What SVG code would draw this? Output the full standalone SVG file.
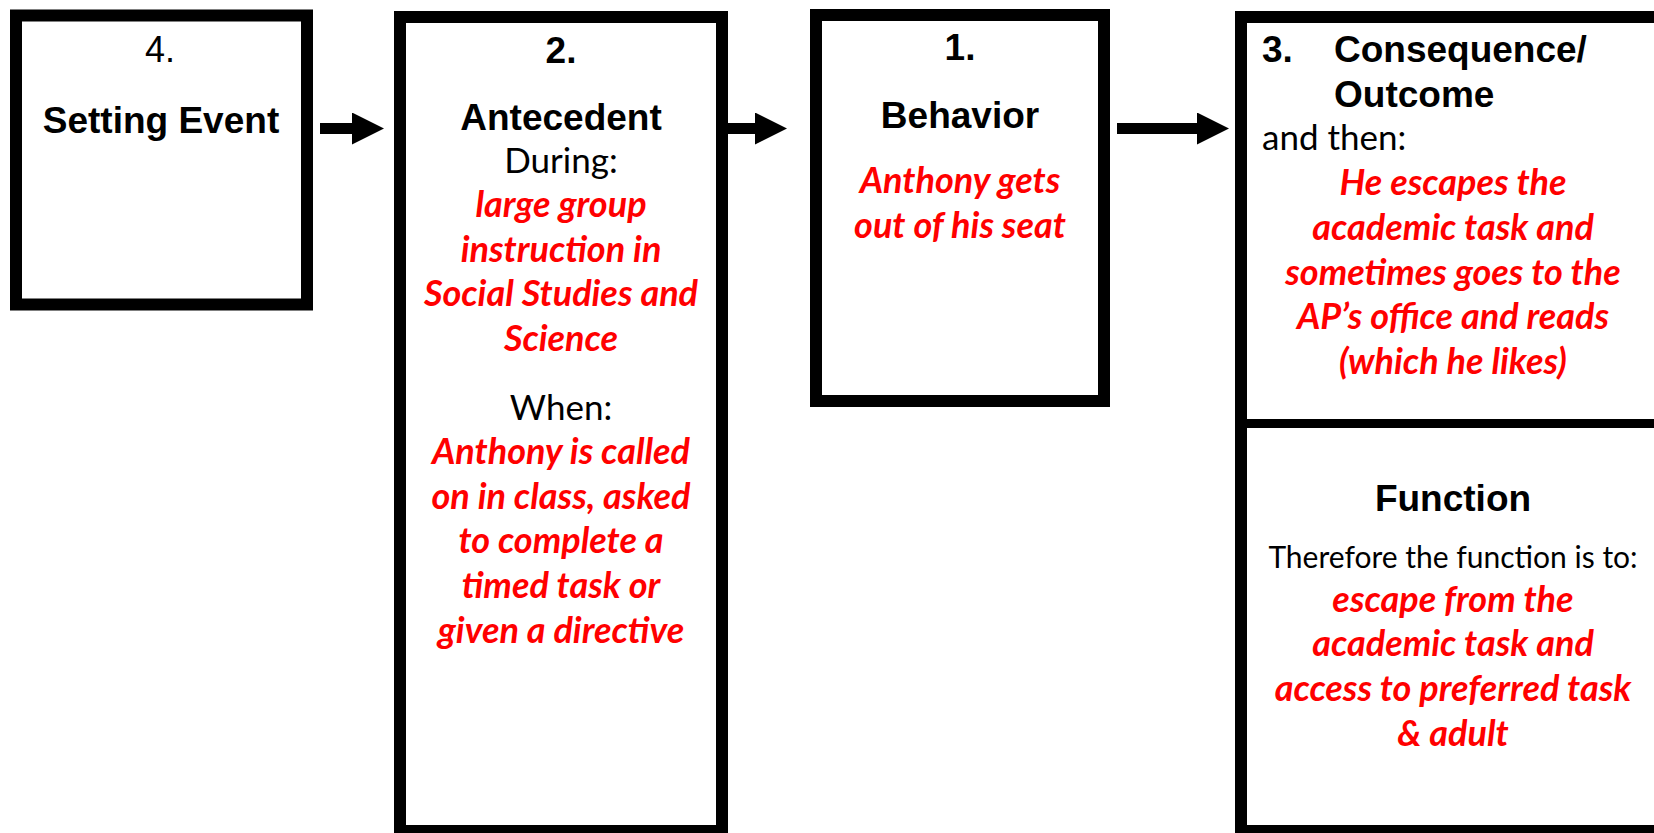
<svg xmlns="http://www.w3.org/2000/svg" width="1654" height="833" viewBox="0 0 1654 833">
<style>
.box{fill:#fff;stroke:#000;stroke-width:12}
.hd{font-family:"Liberation Sans",Arial,sans-serif;font-weight:bold;font-size:37px;fill:#000}
.num{font-family:"Liberation Sans",Arial,sans-serif;font-size:36px;fill:#000}
.lbl{font-family:Lato,"Open Sans",sans-serif;font-size:35px;fill:#000}
.red{font-family:Lato,"Open Sans",sans-serif;font-size:36px;font-weight:bold;font-style:italic;fill:#ff0000}
.c{text-anchor:middle}
.conn{stroke:#000;stroke-width:11;fill:none}
</style>
<defs>
<marker id="ah" markerUnits="userSpaceOnUse" markerWidth="32" markerHeight="32" refX="0" refY="16" orient="auto">
<path d="M0,0 L32,16 L0,32 Z" fill="#000"/>
</marker>
</defs>
<rect width="1654" height="833" fill="#fff"/>
<g id="setting-event">
<rect class="box" x="16" y="15.5" width="291" height="289"/>
<text class="num c" x="160" y="62.3">4.</text>
<text class="hd c" x="161" y="133">Setting Event</text>
</g>
<g id="antecedent">
<rect class="box" x="400" y="17" width="322" height="814"/>
<text class="hd c" x="561" y="62.7">2.</text>
<text class="hd c" x="561" y="130">Antecedent</text>
<text class="lbl c" x="561" y="172.7">During:</text>
<text class="red c" x="561" y="216.7">large group</text>
<text class="red c" x="561" y="261.5">instruction in</text>
<text class="red c" x="561" y="306.3">Social Studies and</text>
<text class="red c" x="561" y="351">Science</text>
<text class="lbl c" x="561" y="420">When:</text>
<text class="red c" x="561" y="464">Anthony is called</text>
<text class="red c" x="561" y="508.5">on in class, asked</text>
<text class="red c" x="561" y="553">to complete a</text>
<text class="red c" x="561" y="598">timed task or</text>
<text class="red c" x="561" y="642.7">given a directive</text>
</g>
<g id="behavior">
<rect class="box" x="816" y="15" width="288" height="386"/>
<text class="hd c" x="960" y="60">1.</text>
<text class="hd c" x="960" y="127.7">Behavior</text>
<text class="red c" x="960" y="192.7">Anthony gets</text>
<text class="red c" x="960" y="238">out of his seat</text>
</g>
<g id="consequence">
<rect class="box" x="1241" y="17" width="424" height="814"/>
<line x1="1241" y1="423.5" x2="1665" y2="423.5" stroke="#000" stroke-width="9"/>
<text class="hd" x="1262" y="62.3">3.</text>
<text class="hd" x="1334" y="62.3">Consequence/</text>
<text class="hd" x="1334" y="106.7">Outcome</text>
<text class="lbl" x="1262" y="150">and then:</text>
<text class="red c" x="1453" y="195">He escapes the</text>
<text class="red c" x="1453" y="239.8">academic task and</text>
<text class="red c" x="1453" y="284.5">sometimes goes to the</text>
<text class="red c" x="1453" y="329.2">AP’s office and reads</text>
<text class="red c" x="1453" y="373.8">(which he likes)</text>
</g>
<g id="function">
<text class="hd c" x="1453" y="511">Function</text>
<text class="lbl c" x="1453" y="568.3" style="font-size:30px">Therefore the function is to:</text>
<text class="red c" x="1453" y="611.7">escape from the</text>
<text class="red c" x="1453" y="656.3">academic task and</text>
<text class="red c" x="1453" y="700.9">access to preferred task</text>
<text class="red c" x="1453" y="745.5">&amp; adult</text>
</g>
<g id="connectors">
<line class="conn" x1="320" y1="128.5" x2="352" y2="128.5" marker-end="url(#ah)"/>
<line class="conn" x1="728" y1="128.5" x2="755" y2="128.5" marker-end="url(#ah)"/>
<line class="conn" x1="1117" y1="128.5" x2="1197" y2="128.5" marker-end="url(#ah)"/>
</g>
</svg>
